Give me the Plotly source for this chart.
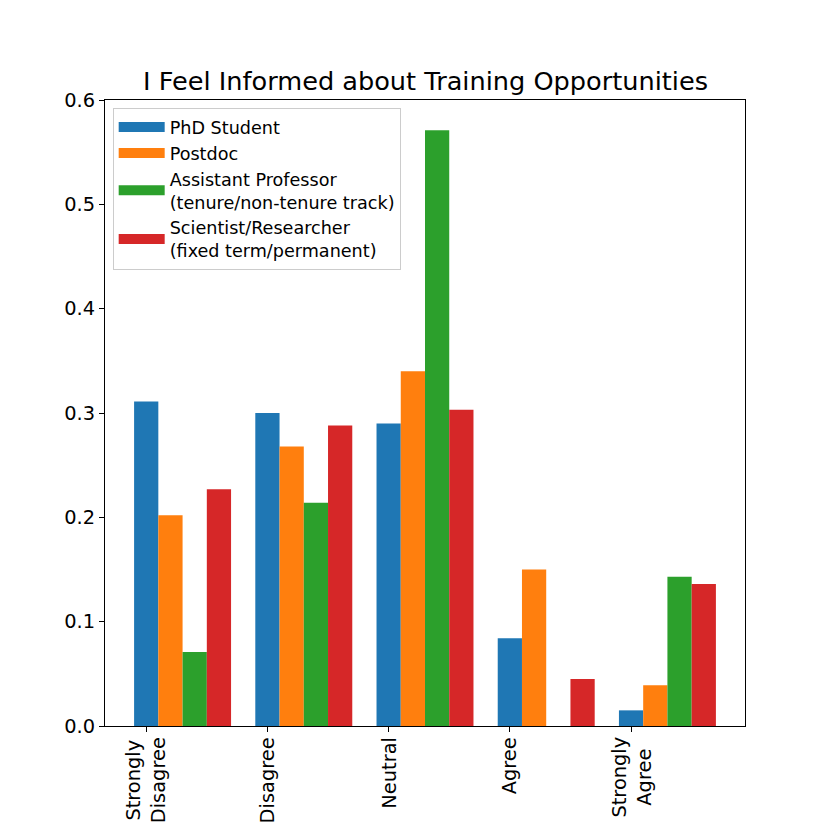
import plotly.graph_objects as go

CATEGORIES = ["Strongly<br>Disagree", "Disagree", "Neutral", "Agree", "Strongly<br>Agree"]

GROUPS = [
    "PhD Student",
    "Postdoc",
    "Assistant Professor<br>(tenure/non-tenure track)",
    "Scientist/Researcher<br>(fixed term/permanent)",
]

PHD = [0.311, 0.300, 0.290, 0.084, 0.015]
POSTDOC = [0.202, 0.268, 0.340, 0.150, 0.039]
ASSISTANT = [0.071, 0.214, 0.571, 0.0, 0.143]
SCIENTIST = [0.227, 0.288, 0.303, 0.045, 0.136]

VALUES = [PHD, POSTDOC, ASSISTANT, SCIENTIST]
COLORS = ["#1f77b4", "#ff7f0e", "#2ca02c", "#d62728"]

BAR_WIDTH = 0.2
FONT = "DejaVu Sans"

fig = go.Figure()

for j, (name, vals, color) in enumerate(zip(GROUPS, VALUES, COLORS)):
    fig.add_trace(go.Bar(
        x=CATEGORIES,
        y=vals,
        name=name,
        width=BAR_WIDTH,
        offset=-BAR_WIDTH / 2 + j * BAR_WIDTH,
        marker=dict(color=color, line=dict(width=0)),
        showlegend=False,
        legendgroup=name,
    ))
    # legend entry drawn as a thick line so it looks like matplotlib's patch
    fig.add_trace(go.Scatter(
        x=[None], y=[None],
        mode="lines",
        name=name,
        line=dict(color=color, width=11),
        legendgroup=name,
        hoverinfo="skip",
    ))

# rotated, centred tick labels like matplotlib's rotation=90
for cat in CATEGORIES:
    fig.add_annotation(
        x=cat, xref="x",
        y=0, yref="paper",
        text=cat,
        textangle=-90,
        align="center",
        xanchor="center", yanchor="top",
        yshift=-9,
        showarrow=False,
        font=dict(size=19.4, family=FONT, color="black"),
    )

# the page body adds an 8px offset, so margins are shifted to compensate
fig.update_layout(
    width=830,
    height=830,
    barmode="overlay",
    paper_bgcolor="white",
    plot_bgcolor="white",
    margin=dict(l=97, r=93, t=92, b=112),
    font=dict(family=FONT, color="black"),
    title=dict(
        text="I Feel Informed about Training Opportunities",
        x=417.5 / 830, xref="container", xanchor="center",
        y=0.912, yref="container", yanchor="middle",
        font=dict(size=25.6, family=FONT, color="black"),
    ),
    legend=dict(
        x=0.012, y=0.987, xanchor="left", yanchor="top",
        bgcolor="rgba(255,255,255,0.8)",
        bordercolor="#cccccc", borderwidth=1,
        font=dict(size=17.6, family=FONT, color="black"),
        itemwidth=46,
        tracegroupgap=0,
    ),
    xaxis=dict(
        type="category",
        range=[-0.34, 4.94],
        showticklabels=False,
        automargin=False,
        ticks="outside", ticklen=5, tickwidth=1, tickcolor="black",
        showline=True, linecolor="black", linewidth=1, mirror=True,
        showgrid=False, zeroline=False,
    ),
    yaxis=dict(
        range=[0, 0.6],
        automargin=False,
        tickvals=[0.0, 0.1, 0.2, 0.3, 0.4, 0.5, 0.6],
        tickformat=".1f",
        ticks="outside", ticklen=5, tickwidth=1, tickcolor="black",
        showline=True, linecolor="black", linewidth=1, mirror=True,
        showgrid=False, zeroline=False,
        tickfont=dict(size=19.4, family=FONT, color="black"),
    ),
)

fig.write_html("out.html")
